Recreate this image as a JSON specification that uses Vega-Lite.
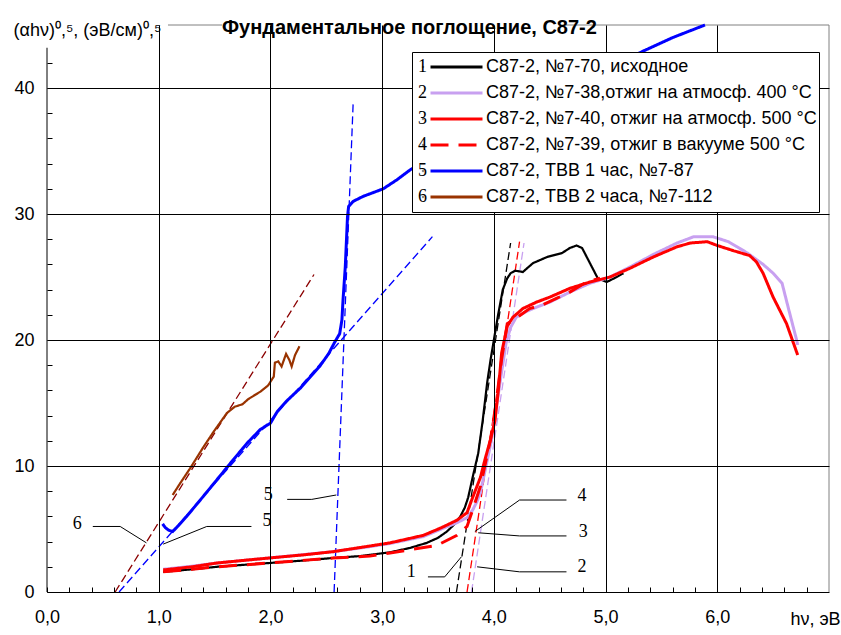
{
  "$schema": "https://vega.github.io/schema/vega-lite/v6.json",
  "width": 782,
  "height": 567,
  "autosize": {"type": "none"},
  "padding": {"left": 47, "top": 25, "right": 12, "bottom": 43},
  "background": "white",
  "config": {"view": {"stroke": null}, "font": "Liberation Sans"},
  "title": {
    "text": "Фундаментальное поглощение, С87-2",
    "anchor": "start", "frame": "group", "orient": "top", "offset": 0,
    "dx": 175, "dy": 39, "baseline": "alphabetic",
    "font": "Liberation Sans", "fontSize": 20, "fontWeight": "bold", "color": "black"
  },
  "datasets": {
    "frame": [
      {"side": "left", "x": 0, "y": 0, "x2": 0, "y2": 45},
      {"side": "top", "x": 0, "y": 45, "x2": 7, "y2": 45},
      {"side": "right", "x": 7, "y": 0, "x2": 7, "y2": 45}
    ],
    "masks": [
      {"x": -0.31, "x2": 1.083, "y": 43.2, "y2": 45.8},
      {"x": 1.567, "x2": 4.59, "y": 43.2, "y2": 45.8}
    ],
    "tangents": [
      {"t": "1", "x": 3.665, "y": 0}, {"t": "1", "x": 4.15, "y": 27.7},
      {"t": "2", "x": 3.8, "y": 0}, {"t": "2", "x": 4.27, "y": 27.7},
      {"t": "3", "x": 3.76, "y": 0}, {"t": "3", "x": 4.23, "y": 27.8},
      {"t": "5a", "x": 2.57, "y": 0}, {"t": "5a", "x": 2.74, "y": 38.7},
      {"t": "5b", "x": 0.645, "y": 0}, {"t": "5b", "x": 3.45, "y": 28.2},
      {"t": "6", "x": 0.61, "y": 0}, {"t": "6", "x": 2.39, "y": 25.2}
    ],
    "leaders": [
      {"id": "6", "x": 0.41, "y": 5.2}, {"id": "6", "x": 0.655, "y": 5.2}, {"id": "6", "x": 0.89, "y": 3.9},
      {"id": "5a", "x": 1.04, "y": 3.8}, {"id": "5a", "x": 1.43, "y": 5.2}, {"id": "5a", "x": 1.83, "y": 5.2},
      {"id": "5b", "x": 2.15, "y": 7.35}, {"id": "5b", "x": 2.37, "y": 7.35}, {"id": "5b", "x": 2.59, "y": 7.7},
      {"id": "1", "x": 3.41, "y": 1.2}, {"id": "1", "x": 3.56, "y": 1.2}, {"id": "1", "x": 3.71, "y": 2.8},
      {"id": "2", "x": 3.85, "y": 2.0}, {"id": "2", "x": 4.23, "y": 1.6}, {"id": "2", "x": 4.65, "y": 1.6},
      {"id": "3", "x": 3.86, "y": 4.7}, {"id": "3", "x": 4.23, "y": 4.45}, {"id": "3", "x": 4.65, "y": 4.45},
      {"id": "4", "x": 3.83, "y": 4.8}, {"id": "4", "x": 4.23, "y": 7.3}, {"id": "4", "x": 4.65, "y": 7.3}
    ],
    "labels": [
      {"x": 0.27, "y": 5.4, "text": "6"},
      {"x": 1.97, "y": 5.6, "text": "5"},
      {"x": 1.98, "y": 7.7, "text": "5"},
      {"x": 3.26, "y": 1.6, "text": "1"},
      {"x": 4.79, "y": 2.0, "text": "2"},
      {"x": 4.8, "y": 4.8, "text": "3"},
      {"x": 4.79, "y": 7.6, "text": "4"}
    ],
    "curves": [
      {"series": "С87-2, №7-70, исходное", "num": "1", "x": 1.04, "y": 1.6},
      {"series": "С87-2, №7-70, исходное", "num": "1", "x": 1.3, "y": 1.8},
      {"series": "С87-2, №7-70, исходное", "num": "1", "x": 1.52, "y": 2.0},
      {"series": "С87-2, №7-70, исходное", "num": "1", "x": 1.75, "y": 2.15},
      {"series": "С87-2, №7-70, исходное", "num": "1", "x": 1.99, "y": 2.3},
      {"series": "С87-2, №7-70, исходное", "num": "1", "x": 2.3, "y": 2.5},
      {"series": "С87-2, №7-70, исходное", "num": "1", "x": 2.56, "y": 2.7},
      {"series": "С87-2, №7-70, исходное", "num": "1", "x": 2.8, "y": 2.85},
      {"series": "С87-2, №7-70, исходное", "num": "1", "x": 3.07, "y": 3.15},
      {"series": "С87-2, №7-70, исходное", "num": "1", "x": 3.25, "y": 3.5},
      {"series": "С87-2, №7-70, исходное", "num": "1", "x": 3.4, "y": 3.9},
      {"series": "С87-2, №7-70, исходное", "num": "1", "x": 3.5, "y": 4.3},
      {"series": "С87-2, №7-70, исходное", "num": "1", "x": 3.58, "y": 4.8},
      {"series": "С87-2, №7-70, исходное", "num": "1", "x": 3.65, "y": 5.4},
      {"series": "С87-2, №7-70, исходное", "num": "1", "x": 3.7, "y": 6.0},
      {"series": "С87-2, №7-70, исходное", "num": "1", "x": 3.74, "y": 6.7},
      {"series": "С87-2, №7-70, исходное", "num": "1", "x": 3.77, "y": 7.5},
      {"series": "С87-2, №7-70, исходное", "num": "1", "x": 3.81, "y": 9.1},
      {"series": "С87-2, №7-70, исходное", "num": "1", "x": 3.86, "y": 11.0},
      {"series": "С87-2, №7-70, исходное", "num": "1", "x": 3.9, "y": 13.6},
      {"series": "С87-2, №7-70, исходное", "num": "1", "x": 3.94, "y": 16.6},
      {"series": "С87-2, №7-70, исходное", "num": "1", "x": 3.97, "y": 18.4},
      {"series": "С87-2, №7-70, исходное", "num": "1", "x": 4.0, "y": 20.0},
      {"series": "С87-2, №7-70, исходное", "num": "1", "x": 4.04, "y": 22.1},
      {"series": "С87-2, №7-70, исходное", "num": "1", "x": 4.08, "y": 24.0},
      {"series": "С87-2, №7-70, исходное", "num": "1", "x": 4.12, "y": 24.9},
      {"series": "С87-2, №7-70, исходное", "num": "1", "x": 4.15, "y": 25.3},
      {"series": "С87-2, №7-70, исходное", "num": "1", "x": 4.19, "y": 25.5},
      {"series": "С87-2, №7-70, исходное", "num": "1", "x": 4.26, "y": 25.4},
      {"series": "С87-2, №7-70, исходное", "num": "1", "x": 4.35, "y": 26.1},
      {"series": "С87-2, №7-70, исходное", "num": "1", "x": 4.48, "y": 26.6},
      {"series": "С87-2, №7-70, исходное", "num": "1", "x": 4.61, "y": 26.9},
      {"series": "С87-2, №7-70, исходное", "num": "1", "x": 4.68, "y": 27.3},
      {"series": "С87-2, №7-70, исходное", "num": "1", "x": 4.74, "y": 27.5},
      {"series": "С87-2, №7-70, исходное", "num": "1", "x": 4.79, "y": 27.3},
      {"series": "С87-2, №7-70, исходное", "num": "1", "x": 4.86, "y": 26.1},
      {"series": "С87-2, №7-70, исходное", "num": "1", "x": 4.93, "y": 24.9},
      {"series": "С87-2, №7-70, исходное", "num": "1", "x": 5.01, "y": 24.6},
      {"series": "С87-2, №7-70, исходное", "num": "1", "x": 5.1, "y": 25.0},
      {"series": "С87-2, №7-70, исходное", "num": "1", "x": 5.16, "y": 25.3},

      {"series": "\u00a0С87-2, №7-38,отжиг на атмосф. 400 °C", "num": "2", "x": 1.04, "y": 1.8},
      {"series": "\u00a0С87-2, №7-38,отжиг на атмосф. 400 °C", "num": "2", "x": 1.3, "y": 2.05},
      {"series": "\u00a0С87-2, №7-38,отжиг на атмосф. 400 °C", "num": "2", "x": 1.52, "y": 2.3},
      {"series": "\u00a0С87-2, №7-38,отжиг на атмосф. 400 °C", "num": "2", "x": 1.99, "y": 2.7},
      {"series": "\u00a0С87-2, №7-38,отжиг на атмосф. 400 °C", "num": "2", "x": 2.56, "y": 3.2},
      {"series": "\u00a0С87-2, №7-38,отжиг на атмосф. 400 °C", "num": "2", "x": 2.89, "y": 3.6},
      {"series": "\u00a0С87-2, №7-38,отжиг на атмосф. 400 °C", "num": "2", "x": 3.07, "y": 3.85},
      {"series": "\u00a0С87-2, №7-38,отжиг на атмосф. 400 °C", "num": "2", "x": 3.37, "y": 4.4},
      {"series": "\u00a0С87-2, №7-38,отжиг на атмосф. 400 °C", "num": "2", "x": 3.53, "y": 5.0},
      {"series": "\u00a0С87-2, №7-38,отжиг на атмосф. 400 °C", "num": "2", "x": 3.67, "y": 5.5},
      {"series": "\u00a0С87-2, №7-38,отжиг на атмосф. 400 °C", "num": "2", "x": 3.76, "y": 5.9},
      {"series": "\u00a0С87-2, №7-38,отжиг на атмосф. 400 °C", "num": "2", "x": 3.81, "y": 6.5},
      {"series": "\u00a0С87-2, №7-38,отжиг на атмосф. 400 °C", "num": "2", "x": 3.85, "y": 7.2},
      {"series": "\u00a0С87-2, №7-38,отжиг на атмосф. 400 °C", "num": "2", "x": 3.88, "y": 7.9},
      {"series": "\u00a0С87-2, №7-38,отжиг на атмосф. 400 °C", "num": "2", "x": 3.93, "y": 10.0},
      {"series": "\u00a0С87-2, №7-38,отжиг на атмосф. 400 °C", "num": "2", "x": 3.98, "y": 12.1},
      {"series": "\u00a0С87-2, №7-38,отжиг на атмосф. 400 °C", "num": "2", "x": 4.02, "y": 14.5},
      {"series": "\u00a0С87-2, №7-38,отжиг на атмосф. 400 °C", "num": "2", "x": 4.07, "y": 17.5},
      {"series": "\u00a0С87-2, №7-38,отжиг на атмосф. 400 °C", "num": "2", "x": 4.11, "y": 19.8},
      {"series": "\u00a0С87-2, №7-38,отжиг на атмосф. 400 °C", "num": "2", "x": 4.15, "y": 21.0},
      {"series": "\u00a0С87-2, №7-38,отжиг на атмосф. 400 °C", "num": "2", "x": 4.2, "y": 21.8},
      {"series": "\u00a0С87-2, №7-38,отжиг на атмосф. 400 °C", "num": "2", "x": 4.3, "y": 22.3},
      {"series": "\u00a0С87-2, №7-38,отжиг на атмосф. 400 °C", "num": "2", "x": 4.38, "y": 22.6},
      {"series": "\u00a0С87-2, №7-38,отжиг на атмосф. 400 °C", "num": "2", "x": 4.5, "y": 23.0},
      {"series": "\u00a0С87-2, №7-38,отжиг на атмосф. 400 °C", "num": "2", "x": 4.68, "y": 23.8},
      {"series": "\u00a0С87-2, №7-38,отжиг на атмосф. 400 °C", "num": "2", "x": 4.86, "y": 24.5},
      {"series": "\u00a0С87-2, №7-38,отжиг на атмосф. 400 °C", "num": "2", "x": 5.04, "y": 25.0},
      {"series": "\u00a0С87-2, №7-38,отжиг на атмосф. 400 °C", "num": "2", "x": 5.22, "y": 25.8},
      {"series": "\u00a0С87-2, №7-38,отжиг на атмосф. 400 °C", "num": "2", "x": 5.43, "y": 26.8},
      {"series": "\u00a0С87-2, №7-38,отжиг на атмосф. 400 °C", "num": "2", "x": 5.64, "y": 27.7},
      {"series": "\u00a0С87-2, №7-38,отжиг на атмосф. 400 °C", "num": "2", "x": 5.79, "y": 28.2},
      {"series": "\u00a0С87-2, №7-38,отжиг на атмосф. 400 °C", "num": "2", "x": 5.96, "y": 28.2},
      {"series": "\u00a0С87-2, №7-38,отжиг на атмосф. 400 °C", "num": "2", "x": 6.1, "y": 27.8},
      {"series": "\u00a0С87-2, №7-38,отжиг на атмосф. 400 °C", "num": "2", "x": 6.27, "y": 26.9},
      {"series": "\u00a0С87-2, №7-38,отжиг на атмосф. 400 °C", "num": "2", "x": 6.41, "y": 26.0},
      {"series": "\u00a0С87-2, №7-38,отжиг на атмосф. 400 °C", "num": "2", "x": 6.5, "y": 25.3},
      {"series": "\u00a0С87-2, №7-38,отжиг на атмосф. 400 °C", "num": "2", "x": 6.58, "y": 24.5},
      {"series": "\u00a0С87-2, №7-38,отжиг на атмосф. 400 °C", "num": "2", "x": 6.64, "y": 22.4},
      {"series": "\u00a0С87-2, №7-38,отжиг на атмосф. 400 °C", "num": "2", "x": 6.71, "y": 20.0},
      {"series": "\u00a0С87-2, №7-38,отжиг на атмосф. 400 °C", "num": "2", "x": 6.72, "y": 19.6},

      {"series": "\u00a0С87-2, №7-40, отжиг на атмосф. 500 °C", "num": "3", "x": 1.04, "y": 1.75},
      {"series": "\u00a0С87-2, №7-40, отжиг на атмосф. 500 °C", "num": "3", "x": 1.3, "y": 2.0},
      {"series": "\u00a0С87-2, №7-40, отжиг на атмосф. 500 °C", "num": "3", "x": 1.52, "y": 2.3},
      {"series": "\u00a0С87-2, №7-40, отжиг на атмосф. 500 °C", "num": "3", "x": 1.75, "y": 2.5},
      {"series": "\u00a0С87-2, №7-40, отжиг на атмосф. 500 °C", "num": "3", "x": 1.99, "y": 2.7},
      {"series": "\u00a0С87-2, №7-40, отжиг на атмосф. 500 °C", "num": "3", "x": 2.3, "y": 2.95},
      {"series": "\u00a0С87-2, №7-40, отжиг на атмосф. 500 °C", "num": "3", "x": 2.56, "y": 3.2},
      {"series": "\u00a0С87-2, №7-40, отжиг на атмосф. 500 °C", "num": "3", "x": 2.89, "y": 3.65},
      {"series": "\u00a0С87-2, №7-40, отжиг на атмосф. 500 °C", "num": "3", "x": 3.07, "y": 3.9},
      {"series": "\u00a0С87-2, №7-40, отжиг на атмосф. 500 °C", "num": "3", "x": 3.37, "y": 4.5},
      {"series": "\u00a0С87-2, №7-40, отжиг на атмосф. 500 °C", "num": "3", "x": 3.53, "y": 5.1},
      {"series": "\u00a0С87-2, №7-40, отжиг на атмосф. 500 °C", "num": "3", "x": 3.67, "y": 5.7},
      {"series": "\u00a0С87-2, №7-40, отжиг на атмосф. 500 °C", "num": "3", "x": 3.76, "y": 6.3},
      {"series": "\u00a0С87-2, №7-40, отжиг на атмосф. 500 °C", "num": "3", "x": 3.81, "y": 7.5},
      {"series": "\u00a0С87-2, №7-40, отжиг на атмосф. 500 °C", "num": "3", "x": 3.88, "y": 9.1},
      {"series": "\u00a0С87-2, №7-40, отжиг на атмосф. 500 °C", "num": "3", "x": 3.92, "y": 10.5},
      {"series": "\u00a0С87-2, №7-40, отжиг на атмосф. 500 °C", "num": "3", "x": 3.97, "y": 12.1},
      {"series": "\u00a0С87-2, №7-40, отжиг на атмосф. 500 °C", "num": "3", "x": 4.01, "y": 13.6},
      {"series": "\u00a0С87-2, №7-40, отжиг на атмосф. 500 °C", "num": "3", "x": 4.04, "y": 16.0},
      {"series": "\u00a0С87-2, №7-40, отжиг на атмосф. 500 °C", "num": "3", "x": 4.07, "y": 19.0},
      {"series": "\u00a0С87-2, №7-40, отжиг на атмосф. 500 °C", "num": "3", "x": 4.12, "y": 21.1},
      {"series": "\u00a0С87-2, №7-40, отжиг на атмосф. 500 °C", "num": "3", "x": 4.17, "y": 21.8},
      {"series": "\u00a0С87-2, №7-40, отжиг на атмосф. 500 °C", "num": "3", "x": 4.26, "y": 22.5},
      {"series": "\u00a0С87-2, №7-40, отжиг на атмосф. 500 °C", "num": "3", "x": 4.38, "y": 23.0},
      {"series": "\u00a0С87-2, №7-40, отжиг на атмосф. 500 °C", "num": "3", "x": 4.5, "y": 23.4},
      {"series": "\u00a0С87-2, №7-40, отжиг на атмосф. 500 °C", "num": "3", "x": 4.68, "y": 24.1},
      {"series": "\u00a0С87-2, №7-40, отжиг на атмосф. 500 °C", "num": "3", "x": 4.86, "y": 24.6},
      {"series": "\u00a0С87-2, №7-40, отжиг на атмосф. 500 °C", "num": "3", "x": 5.04, "y": 25.0},
      {"series": "\u00a0С87-2, №7-40, отжиг на атмосф. 500 °C", "num": "3", "x": 5.22, "y": 25.7},
      {"series": "\u00a0С87-2, №7-40, отжиг на атмосф. 500 °C", "num": "3", "x": 5.43, "y": 26.6},
      {"series": "\u00a0С87-2, №7-40, отжиг на атмосф. 500 °C", "num": "3", "x": 5.64, "y": 27.4},
      {"series": "\u00a0С87-2, №7-40, отжиг на атмосф. 500 °C", "num": "3", "x": 5.76, "y": 27.7},
      {"series": "\u00a0С87-2, №7-40, отжиг на атмосф. 500 °C", "num": "3", "x": 5.91, "y": 27.8},
      {"series": "\u00a0С87-2, №7-40, отжиг на атмосф. 500 °C", "num": "3", "x": 6.0, "y": 27.5},
      {"series": "\u00a0С87-2, №7-40, отжиг на атмосф. 500 °C", "num": "3", "x": 6.14, "y": 27.1},
      {"series": "\u00a0С87-2, №7-40, отжиг на атмосф. 500 °C", "num": "3", "x": 6.29, "y": 26.7},
      {"series": "\u00a0С87-2, №7-40, отжиг на атмосф. 500 °C", "num": "3", "x": 6.35, "y": 26.2},
      {"series": "\u00a0С87-2, №7-40, отжиг на атмосф. 500 °C", "num": "3", "x": 6.41, "y": 25.3},
      {"series": "\u00a0С87-2, №7-40, отжиг на атмосф. 500 °C", "num": "3", "x": 6.5, "y": 23.4},
      {"series": "\u00a0С87-2, №7-40, отжиг на атмосф. 500 °C", "num": "3", "x": 6.62, "y": 21.3},
      {"series": "\u00a0С87-2, №7-40, отжиг на атмосф. 500 °C", "num": "3", "x": 6.72, "y": 18.8},

      {"series": "\u00a0С87-2, №7-39, отжиг в вакууме 500 °C", "num": "4", "x": 1.04, "y": 1.6},
      {"series": "\u00a0С87-2, №7-39, отжиг в вакууме 500 °C", "num": "4", "x": 1.3, "y": 1.8},
      {"series": "\u00a0С87-2, №7-39, отжиг в вакууме 500 °C", "num": "4", "x": 1.52, "y": 2.0},
      {"series": "\u00a0С87-2, №7-39, отжиг в вакууме 500 °C", "num": "4", "x": 1.99, "y": 2.3},
      {"series": "\u00a0С87-2, №7-39, отжиг в вакууме 500 °C", "num": "4", "x": 2.56, "y": 2.7},
      {"series": "\u00a0С87-2, №7-39, отжиг в вакууме 500 °C", "num": "4", "x": 2.89, "y": 2.85},
      {"series": "\u00a0С87-2, №7-39, отжиг в вакууме 500 °C", "num": "4", "x": 3.07, "y": 3.1},
      {"series": "\u00a0С87-2, №7-39, отжиг в вакууме 500 °C", "num": "4", "x": 3.49, "y": 3.7},
      {"series": "\u00a0С87-2, №7-39, отжиг в вакууме 500 °C", "num": "4", "x": 3.67, "y": 4.5},
      {"series": "\u00a0С87-2, №7-39, отжиг в вакууме 500 °C", "num": "4", "x": 3.76, "y": 5.2},
      {"series": "\u00a0С87-2, №7-39, отжиг в вакууме 500 °C", "num": "4", "x": 3.81, "y": 6.5},
      {"series": "\u00a0С87-2, №7-39, отжиг в вакууме 500 °C", "num": "4", "x": 3.88, "y": 8.4},
      {"series": "\u00a0С87-2, №7-39, отжиг в вакууме 500 °C", "num": "4", "x": 3.97, "y": 12.1},
      {"series": "\u00a0С87-2, №7-39, отжиг в вакууме 500 °C", "num": "4", "x": 4.02, "y": 15.0},
      {"series": "\u00a0С87-2, №7-39, отжиг в вакууме 500 °C", "num": "4", "x": 4.07, "y": 18.5},
      {"series": "\u00a0С87-2, №7-39, отжиг в вакууме 500 °C", "num": "4", "x": 4.12, "y": 21.3},
      {"series": "\u00a0С87-2, №7-39, отжиг в вакууме 500 °C", "num": "4", "x": 4.21, "y": 21.8},
      {"series": "\u00a0С87-2, №7-39, отжиг в вакууме 500 °C", "num": "4", "x": 4.32, "y": 22.5},
      {"series": "\u00a0С87-2, №7-39, отжиг в вакууме 500 °C", "num": "4", "x": 4.44, "y": 22.8},
      {"series": "\u00a0С87-2, №7-39, отжиг в вакууме 500 °C", "num": "4", "x": 4.56, "y": 23.3},
      {"series": "\u00a0С87-2, №7-39, отжиг в вакууме 500 °C", "num": "4", "x": 4.68, "y": 23.8},
      {"series": "\u00a0С87-2, №7-39, отжиг в вакууме 500 °C", "num": "4", "x": 4.83, "y": 24.6},
      {"series": "\u00a0С87-2, №7-39, отжиг в вакууме 500 °C", "num": "4", "x": 4.95, "y": 24.9},

      {"series": "С87-2, ТВВ 1 час, №7-87", "num": "5", "x": 1.035, "y": 5.4},
      {"series": "С87-2, ТВВ 1 час, №7-87", "num": "5", "x": 1.06, "y": 5.1},
      {"series": "С87-2, ТВВ 1 час, №7-87", "num": "5", "x": 1.09, "y": 4.9},
      {"series": "С87-2, ТВВ 1 час, №7-87", "num": "5", "x": 1.125, "y": 4.8},
      {"series": "С87-2, ТВВ 1 час, №7-87", "num": "5", "x": 1.18, "y": 5.3},
      {"series": "С87-2, ТВВ 1 час, №7-87", "num": "5", "x": 1.25, "y": 6.0},
      {"series": "С87-2, ТВВ 1 час, №7-87", "num": "5", "x": 1.4, "y": 7.6},
      {"series": "С87-2, ТВВ 1 час, №7-87", "num": "5", "x": 1.52, "y": 8.9},
      {"series": "С87-2, ТВВ 1 час, №7-87", "num": "5", "x": 1.64, "y": 10.2},
      {"series": "С87-2, ТВВ 1 час, №7-87", "num": "5", "x": 1.79, "y": 11.8},
      {"series": "С87-2, ТВВ 1 час, №7-87", "num": "5", "x": 1.91, "y": 12.9},
      {"series": "С87-2, ТВВ 1 час, №7-87", "num": "5", "x": 2.0, "y": 13.4},
      {"series": "С87-2, ТВВ 1 час, №7-87", "num": "5", "x": 2.06, "y": 14.3},
      {"series": "С87-2, ТВВ 1 час, №7-87", "num": "5", "x": 2.09, "y": 14.6},
      {"series": "С87-2, ТВВ 1 час, №7-87", "num": "5", "x": 2.15, "y": 15.2},
      {"series": "С87-2, ТВВ 1 час, №7-87", "num": "5", "x": 2.27, "y": 16.2},
      {"series": "С87-2, ТВВ 1 час, №7-87", "num": "5", "x": 2.35, "y": 17.0},
      {"series": "С87-2, ТВВ 1 час, №7-87", "num": "5", "x": 2.44, "y": 17.9},
      {"series": "С87-2, ТВВ 1 час, №7-87", "num": "5", "x": 2.52, "y": 18.9},
      {"series": "С87-2, ТВВ 1 час, №7-87", "num": "5", "x": 2.58, "y": 19.9},
      {"series": "С87-2, ТВВ 1 час, №7-87", "num": "5", "x": 2.62, "y": 20.5},
      {"series": "С87-2, ТВВ 1 час, №7-87", "num": "5", "x": 2.64, "y": 21.6},
      {"series": "С87-2, ТВВ 1 час, №7-87", "num": "5", "x": 2.65, "y": 23.2},
      {"series": "С87-2, ТВВ 1 час, №7-87", "num": "5", "x": 2.67, "y": 25.8},
      {"series": "С87-2, ТВВ 1 час, №7-87", "num": "5", "x": 2.69, "y": 29.8},
      {"series": "С87-2, ТВВ 1 час, №7-87", "num": "5", "x": 2.7, "y": 30.6},
      {"series": "С87-2, ТВВ 1 час, №7-87", "num": "5", "x": 2.74, "y": 31.0},
      {"series": "С87-2, ТВВ 1 час, №7-87", "num": "5", "x": 2.83, "y": 31.4},
      {"series": "С87-2, ТВВ 1 час, №7-87", "num": "5", "x": 3.01, "y": 32.0},
      {"series": "С87-2, ТВВ 1 час, №7-87", "num": "5", "x": 3.13, "y": 32.7},
      {"series": "С87-2, ТВВ 1 час, №7-87", "num": "5", "x": 3.25, "y": 33.5},
      {"series": "С87-2, ТВВ 1 час, №7-87", "num": "5", "x": 3.5, "y": 34.8},
      {"series": "С87-2, ТВВ 1 час, №7-87", "num": "5", "x": 3.8, "y": 36.2},
      {"series": "С87-2, ТВВ 1 час, №7-87", "num": "5", "x": 4.1, "y": 37.6},
      {"series": "С87-2, ТВВ 1 час, №7-87", "num": "5", "x": 4.4, "y": 38.9},
      {"series": "С87-2, ТВВ 1 час, №7-87", "num": "5", "x": 4.7, "y": 40.1},
      {"series": "С87-2, ТВВ 1 час, №7-87", "num": "5", "x": 5.0, "y": 41.4},
      {"series": "С87-2, ТВВ 1 час, №7-87", "num": "5", "x": 5.33, "y": 42.9},
      {"series": "С87-2, ТВВ 1 час, №7-87", "num": "5", "x": 5.6, "y": 44.0},
      {"series": "С87-2, ТВВ 1 час, №7-87", "num": "5", "x": 5.89, "y": 45.0},

      {"series": "С87-2, ТВВ 2 часа, №7-112", "num": "6", "x": 1.125, "y": 7.7},
      {"series": "С87-2, ТВВ 2 часа, №7-112", "num": "6", "x": 1.19, "y": 8.6},
      {"series": "С87-2, ТВВ 2 часа, №7-112", "num": "6", "x": 1.28, "y": 9.8},
      {"series": "С87-2, ТВВ 2 часа, №7-112", "num": "6", "x": 1.4, "y": 11.5},
      {"series": "С87-2, ТВВ 2 часа, №7-112", "num": "6", "x": 1.49, "y": 12.7},
      {"series": "С87-2, ТВВ 2 часа, №7-112", "num": "6", "x": 1.61, "y": 14.2},
      {"series": "С87-2, ТВВ 2 часа, №7-112", "num": "6", "x": 1.68, "y": 14.7},
      {"series": "С87-2, ТВВ 2 часа, №7-112", "num": "6", "x": 1.75, "y": 14.9},
      {"series": "С87-2, ТВВ 2 часа, №7-112", "num": "6", "x": 1.8, "y": 15.3},
      {"series": "С87-2, ТВВ 2 часа, №7-112", "num": "6", "x": 1.91, "y": 15.9},
      {"series": "С87-2, ТВВ 2 часа, №7-112", "num": "6", "x": 1.98, "y": 16.4},
      {"series": "С87-2, ТВВ 2 часа, №7-112", "num": "6", "x": 2.03, "y": 17.1},
      {"series": "С87-2, ТВВ 2 часа, №7-112", "num": "6", "x": 2.04, "y": 18.2},
      {"series": "С87-2, ТВВ 2 часа, №7-112", "num": "6", "x": 2.07, "y": 18.3},
      {"series": "С87-2, ТВВ 2 часа, №7-112", "num": "6", "x": 2.1, "y": 17.9},
      {"series": "С87-2, ТВВ 2 часа, №7-112", "num": "6", "x": 2.14, "y": 18.9},
      {"series": "С87-2, ТВВ 2 часа, №7-112", "num": "6", "x": 2.17, "y": 18.4},
      {"series": "С87-2, ТВВ 2 часа, №7-112", "num": "6", "x": 2.19, "y": 17.9},
      {"series": "С87-2, ТВВ 2 часа, №7-112", "num": "6", "x": 2.22, "y": 18.8},
      {"series": "С87-2, ТВВ 2 часа, №7-112", "num": "6", "x": 2.26, "y": 19.5}
    ]
  },
  "encoding": {
    "x": {
      "field": "x", "type": "quantitative",
      "scale": {"domain": [0, 7], "nice": false, "zero": false},
      "axis": {
        "title": "hν, эВ",
        "values": [0, 0.2, 0.4, 0.6, 0.8, 1, 1.2, 1.4, 1.6, 1.8, 2, 2.2, 2.4, 2.6, 2.8, 3, 3.2, 3.4, 3.6, 3.8, 4, 4.2, 4.4, 4.6, 4.8, 5, 5.2, 5.4, 5.6, 5.8, 6, 6.2, 6.4, 6.6, 6.8],
        "labelExpr": "abs(datum.value - round(datum.value)) < 0.001 ? replace(format(datum.value, '.1f'), '.', ',') : ''",
        "labelFont": "Liberation Sans", "labelFontSize": 18, "labelColor": "black",
        "labelPadding": 21, "labelOverlap": false, "labelFlush": false,
        "tickSize": -5, "tickColor": "black", "tickWidth": 1,
        "domainColor": "black", "domainWidth": 1,
        "grid": true, "gridColor": "black", "gridWidth": 1,
        "gridOpacity": {"condition": {"test": "abs(datum.value - round(datum.value)) < 0.001 && datum.value > 0.5", "value": 1}, "value": 0},
        "zindex": 1,
        "titleFont": "Liberation Sans", "titleFontSize": 18, "titleFontWeight": "normal", "titleColor": "black",
        "titleX": 768, "titleY": 27, "titleAlign": "center", "titleBaseline": "middle"
      }
    },
    "y": {
      "field": "y", "type": "quantitative",
      "scale": {"domain": [0, 45], "nice": false, "zero": false},
      "axis": {
        "title": "(αhν)⁰,⁵, (эВ/см)⁰,⁵",
        "values": [0, 2, 4, 6, 8, 10, 12, 14, 16, 18, 20, 22, 24, 26, 28, 30, 32, 34, 36, 38, 40, 42],
        "labelExpr": "datum.value % 10 === 0 ? format(datum.value, 'd') : ''",
        "labelFont": "Liberation Sans", "labelFontSize": 18, "labelColor": "black",
        "labelPadding": 18, "labelOverlap": false, "labelFlush": false,
        "tickSize": -5, "tickColor": "black", "tickWidth": 1,
        "domain": false,
        "grid": true, "gridColor": "black", "gridWidth": 1,
        "gridOpacity": {"condition": {"test": "datum.value % 10 === 0 && datum.value > 5", "value": 1}, "value": 0},
        "zindex": 1,
        "titleFont": "Liberation Sans", "titleFontSize": 18, "titleFontWeight": "normal", "titleColor": "black",
        "titleAngle": 0, "titleAlign": "left", "titleBaseline": "alphabetic",
        "titleX": -34, "titleY": 10
      }
    }
  },
  "layer": [
    {
      "data": {"name": "frame"},
      "mark": {"type": "rule", "strokeWidth": 1},
      "encoding": {
        "x2": {"field": "x2"},
        "y2": {"field": "y2"},
        "color": {"condition": {"test": "datum.side === 'left'", "value": "black"}, "value": "#808080"}
      }
    },
    {
      "data": {"name": "masks"},
      "mark": {"type": "rect", "fill": "white", "stroke": null, "clip": false},
      "encoding": {
        "x2": {"field": "x2"},
        "y2": {"field": "y2"}
      }
    },
    {
      "data": {"name": "tangents"},
      "mark": {"type": "line", "strokeWidth": 1.3, "strokeDash": [8, 4]},
      "encoding": {
        "detail": {"field": "t"},
        "stroke": {"field": "t", "type": "nominal", "legend": null,
          "scale": {"domain": ["1", "2", "3", "5a", "5b", "6"], "range": ["#000000", "#C8A0F0", "#FF0000", "#0000FF", "#0000FF", "#8B0000"]}}
      }
    },
    {
      "data": {"name": "leaders"},
      "mark": {"type": "line", "strokeWidth": 1, "color": "black"},
      "encoding": {"detail": {"field": "id"}}
    },
    {
      "data": {"name": "curves"},
      "encoding": {
        "color": {
          "field": "series", "type": "nominal",
          "scale": {
            "domain": ["С87-2, №7-70, исходное", "\u00a0С87-2, №7-38,отжиг на атмосф. 400 °C", "\u00a0С87-2, №7-40, отжиг на атмосф. 500 °C", "\u00a0С87-2, №7-39, отжиг в вакууме 500 °C", "С87-2, ТВВ 1 час, №7-87", "С87-2, ТВВ 2 часа, №7-112"],
            "range": ["#000000", "#C8A0F0", "#FF0000", "#FF0000", "#0000FF", "#993300"]
          },
          "legend": {
            "orient": "none", "legendX": 365, "legendY": 27, "title": null,
            "fillColor": "white", "strokeColor": "black", "padding": 2,
            "symbolType": "stroke", "symbolSize": 2704, "symbolStrokeWidth": 3,
            "symbolOffset": 15, "labelOffset": 2, "clipHeight": 26, "rowPadding": 0,
            "labelFont": "Liberation Sans", "labelFontSize": 18, "labelColor": "black", "labelLimit": 600,
            "zindex": 1
          }
        },
        "strokeDash": {
          "field": "series", "type": "nominal",
          "scale": {
            "domain": ["С87-2, №7-70, исходное", "\u00a0С87-2, №7-38,отжиг на атмосф. 400 °C", "\u00a0С87-2, №7-40, отжиг на атмосф. 500 °C", "\u00a0С87-2, №7-39, отжиг в вакууме 500 °C", "С87-2, ТВВ 1 час, №7-87", "С87-2, ТВВ 2 часа, №7-112"],
            "range": [[1, 0], [1, 0], [1, 0], [18, 10], [1, 0], [1, 0]]
          },
          "legend": {
            "orient": "none", "legendX": 365, "legendY": 27, "title": null,
            "fillColor": "white", "strokeColor": "black", "padding": 2,
            "symbolType": "stroke", "symbolSize": 2704, "symbolStrokeWidth": 3,
            "symbolOffset": 15, "labelOffset": 2, "clipHeight": 26, "rowPadding": 0,
            "labelFont": "Liberation Sans", "labelFontSize": 18, "labelColor": "black", "labelLimit": 600,
            "zindex": 1
          }
        },
        "opacity": {
          "field": "num", "type": "ordinal",
          "scale": {"type": "point", "domain": ["1", "2", "3", "4", "5", "6"], "range": [1, 1]},
          "legend": {
            "orient": "none", "legendX": 365, "legendY": 27, "title": null,
            "padding": 2, "symbolOpacity": 0, "symbolSize": 1, "symbolType": "circle",
            "labelOffset": -14, "clipHeight": 26, "rowPadding": 0,
            "labelFont": "Liberation Serif", "labelFontSize": 18, "labelColor": "black",
            "zindex": 2
          }
        }
      },
      "layer": [
        {"transform": [{"filter": "datum.num === '1'"}], "mark": {"type": "line", "strokeWidth": 2.2}},
        {"transform": [{"filter": "datum.num !== '1' && datum.num !== '6'"}], "mark": {"type": "line", "strokeWidth": 3}},
        {"transform": [{"filter": "datum.num === '6'"}], "mark": {"type": "line", "strokeWidth": 2.2}}
      ]
    },
    {
      "data": {"name": "labels"},
      "mark": {"type": "text", "font": "Liberation Serif", "fontSize": 18, "color": "black", "align": "center", "baseline": "middle"},
      "encoding": {"text": {"field": "text"}}
    }
  ]
}
